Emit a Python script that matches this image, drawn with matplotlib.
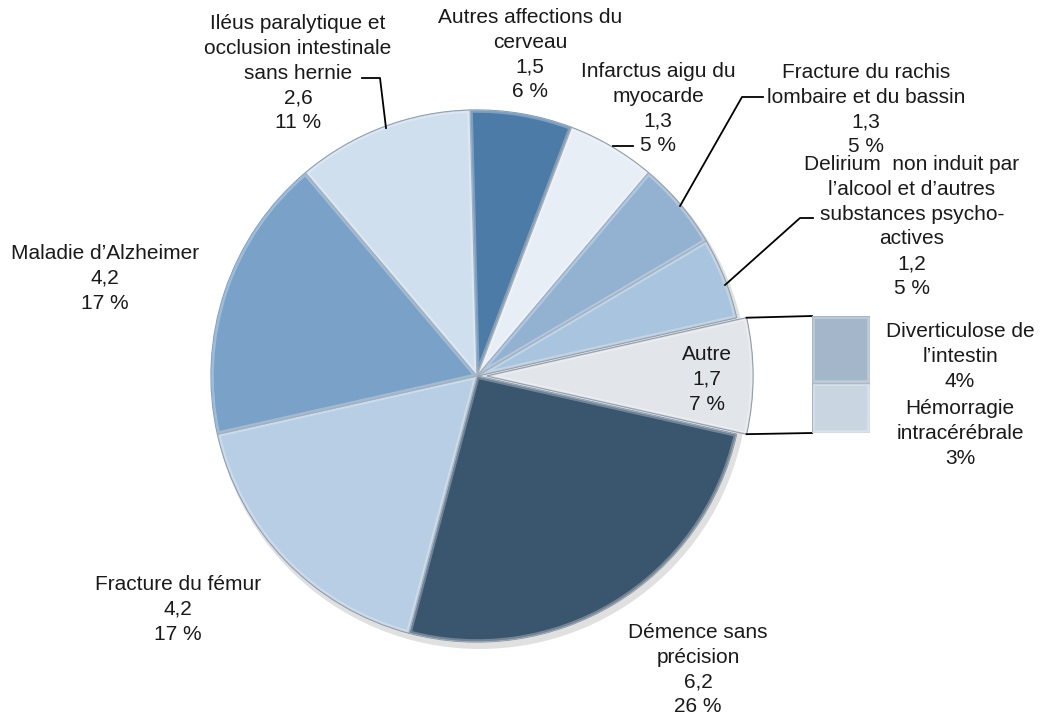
# -*- coding: utf-8 -*-

import numpy as np
import matplotlib
matplotlib.use('Agg')
import matplotlib.pyplot as plt
from matplotlib.patches import Circle, Wedge, Rectangle

plt.rcParams['font.family'] = ['Liberation Sans', 'DejaVu Sans']

# chart data (clockwise from 12 o'clock)
labels = ['Autres affections du\ncerveau',
          'Infarctus aigu du\nmyocarde',
          'Fracture du rachis\nlombaire et du bassin',
          'Delirium  non induit par\nl\u2019alcool et d\u2019autres\nsubstances psycho-\nactives',
          'Autre',
          'D\u00e9mence sans\npr\u00e9cision',
          'Fracture du f\u00e9mur',
          'Maladie d\u2019Alzheimer',
          'Il\u00e9us paralytique et\nocclusion intestinale\nsans hernie']
values = [1.5, 1.3, 1.3, 1.2, 1.7, 6.2, 4.2, 4.2, 2.6]
pcts = [6, 5, 5, 5, 7, 26, 17, 17, 11]
colors = ['#4c7ba8', '#e8eef6', '#93b2d2', '#a9c4df', '#e2e5ea',
          '#3a566f', '#b7cee4', '#7aa2c8', '#cfdfee']

bar_labels = ['Diverticulose de\nl\u2019intestin', 'H\u00e9morragie\nintrac\u00e9r\u00e9brale']
bar_pcts = [4, 3]
bar_colors = ['#a3b6ca', '#c9d5e1']

W, H = 1041, 721
STEP = 24.8


def fmt(v):
    return ('%.1f' % v).replace('.', ',')


def put_lines(ax, lines, x, y0):
    # one text per line, y0 = centre of first line (pixels from top)
    for i, s in enumerate(lines):
        ax.text(x, H - (y0 + i * STEP) - 7, s, ha='center', va='baseline',
                fontsize=15, color='#1a1a1a')


def main():
    fig = plt.figure(figsize=(W / 100, H / 100), dpi=100)
    ax = fig.add_axes([0, 0, 1, 1])

    # pie geometry in pixels (y measured from top)
    cx, cy, r = 477, 376, 266
    explode = [0, 0, 0, 0, 10, 0, 0, 0, 0]

    shadow = Circle((cx + 3, H - cy - 5), r + 2, color='#000000', alpha=0.12, lw=0)
    ax.add_patch(shadow)

    wedges, _ = ax.pie(values, colors=colors, startangle=91.5, counterclock=False,
                       center=(cx, H - cy), radius=r, explode=explode,
                       wedgeprops=dict(edgecolor='#8594a6', linewidth=0.9))

    for w in wedges:
        rim = Wedge(w.center, w.r, w.theta1, w.theta2, facecolor='none',
                    edgecolor='white', alpha=0.28, lw=4)
        ax.add_patch(rim)
        rim.set_clip_path(w)

    ax.set_xlim(0, W)
    ax.set_ylim(0, H)
    ax.set_aspect('equal')
    ax.axis('off')

    # label blocks: centre x and first line centre y, pixels from top-left
    label_pos = [(530, 16), (658, 70), (866, 71), (912, 163), (707, 353),
                 (698, 631), (178, 583), (105, 252), (298, 22)]
    for lab, v, p, (lx, ly) in zip(labels, values, pcts, label_pos):
        lines = lab.split('\n') + [fmt(v), '%d %%' % p]
        put_lines(ax, lines, lx, ly)

    # leader lines
    leaders = [
        [(362, 78), (380, 78), (386, 128)],
        [(613, 146), (633, 146)],
        [(680, 206), (742, 97), (763, 97)],
        [(725, 285), (800, 218), (813, 218)],
    ]
    for pts in leaders:
        xs = [p[0] for p in pts]
        ys = [H - p[1] for p in pts]
        ax.plot(xs, ys, color='black', lw=1.3)

    # bar of pie
    bx0, bx1, by_top, by_bot = 812, 870, 316, 433
    bax = fig.add_axes([bx0 / W, (H - by_bot) / H, (bx1 - bx0) / W, (by_bot - by_top) / H])
    b1 = bax.bar(0, bar_pcts[1], width=1, color=bar_colors[1], edgecolor='#8a99aa', lw=0.9)
    b2 = bax.bar(0, bar_pcts[0], bottom=bar_pcts[1], width=1, color=bar_colors[0],
                 edgecolor='#8a99aa', lw=0.9)
    for rect in list(b1) + list(b2):
        rim = Rectangle(rect.get_xy(), rect.get_width(), rect.get_height(),
                        facecolor='none', edgecolor='white', alpha=0.3, lw=4)
        bax.add_patch(rim)
        rim.set_clip_path(rect)
    bax.set_xlim(-0.5, 0.5)
    bax.set_ylim(0, sum(bar_pcts))
    bax.axis('off')

    # connector lines from the "Autre" slice corners to the bar
    w = wedges[4]
    corners = []
    for th in (w.theta1, w.theta2):
        corners.append((w.center[0] + w.r * np.cos(np.radians(th)),
                        w.center[1] + w.r * np.sin(np.radians(th))))
    corners.sort(key=lambda c: -c[1])
    ax.plot([corners[0][0], bx0], [corners[0][1], H - by_top], color='black', lw=1.3)
    ax.plot([corners[1][0], bx0], [corners[1][1], H - by_bot], color='black', lw=1.3)

    bar_pos = [(960, 330), (960, 407)]
    for lab, p, (lx, ly) in zip(bar_labels, bar_pcts, bar_pos):
        put_lines(ax, lab.split('\n') + ['%d%%' % p], lx, ly)

    fig.savefig('out.png', dpi=100)


if __name__ == '__main__':
    main()
